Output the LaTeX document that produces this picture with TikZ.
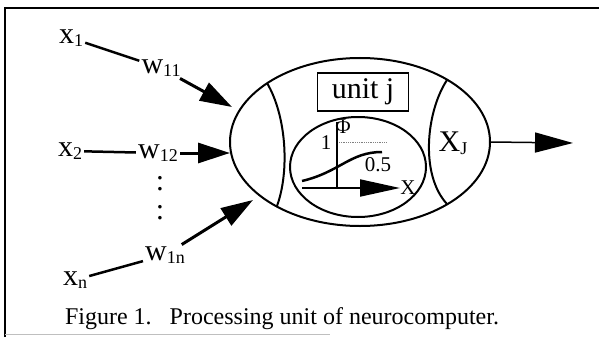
\documentclass[tikz,border=0pt]{standalone}
\usepackage{fontspec}
\setmainfont{Liberation Serif}
\usetikzlibrary{arrows.meta,shapes.geometric}
\newcommand{\lowsub}[1]{\raisebox{-0.2ex}{\fontsize{18}{18}\selectfont #1}}
\tikzset{
  lbl/.style={font=\fontsize{30}{32}\selectfont, inner sep=2pt},
  plotlbl/.style={font=\fontsize{21}{22}\selectfont, inner sep=0pt},
  wire/.style={line width=2.5pt},
  outline/.style={line width=2pt},
  inarrow/.style={line width=3pt, -{Triangle[length=32pt,width=20pt]}},
}
\begin{document}
\begin{tikzpicture}[x=1pt,y=-1pt]
	\useasboundingbox (0,0) rectangle (599,337);
	\draw[line width=2pt] (5,337) -- (5,8) -- (599,8);
	\draw[gray!50, line width=1pt] (5,334) -- (330,334);

	\node[lbl] (x1) at (71,38) {x\lowsub{1}};
	\node[lbl] (w11) at (161,68) {w\lowsub{11}};
	\node[lbl] (x2) at (70,151) {x\lowsub{2}};
	\node[lbl] (w12) at (158,153) {w\lowsub{12}};
	\node[lbl] (dots1) at (160,184) {:};
	\node[lbl] (dots2) at (160,213) {:};
	\node[lbl] (w1n) at (165,255) {w\lowsub{1n}};
	\node[lbl] (xn) at (75,280) {x\lowsub{n}};
	\draw[wire] (x1) -- (w11);
	\draw[wire] (x2) -- (w12);
	\draw[wire] (xn) -- (w1n);

	\node[draw, ellipse, outline, minimum width=260pt, minimum height=168pt, inner sep=0pt] (cell) at (360,142) {};
	\draw[outline] (267,83) .. controls (286,115) and (290,170) .. (277,206);
	\draw[outline] (447,80) .. controls (426,112) and (420,175) .. (447,204);
	\draw[outline] (358,167) ellipse [x radius=68, y radius=50];

	\coordinate (in1) at (232,107);
	\coordinate (in2) at (230,153);
	\coordinate (inn) at (253,200);
	\draw[inarrow] (w11) -- (in1);
	\draw[inarrow] (w12) -- (in2);
	\draw[inarrow] (w1n) -- (inn);

	\node[draw, line width=1.5pt, minimum width=91pt, minimum height=38pt, lbl] (unit) at (363,92) {unit j};

	\coordinate (orig) at (337,188);
	\draw[line width=2pt] (337,122) -- (orig);
	\draw[line width=2pt, -{Triangle[length=40pt,width=17pt]}] (302,188) -- (400,188);
	\draw[densely dotted, gray, line width=0.8pt] (339,142) -- (387,142);
	\draw[line width=2.5pt] (302,181) .. controls (340,172) and (350,152) .. (382,152);
	\node[plotlbl] (phi) at (343,127) {Φ};
	\node[plotlbl] (one) at (326,143) {1};
	\node[plotlbl] (half) at (378,165) {0.5};
	\node[plotlbl] (xin) at (408,188) {X};

	\node[lbl] (xj) at (453,143) {X\lowsub{J}};
	\coordinate (out) at (573,143);
	\draw[line width=1.5pt, -{Triangle[length=38pt,width=20pt]}] (cell.east) -- (out);

	\node[font=\fontsize{24}{26}\selectfont, anchor=base] (caption) at (282,324) {Figure 1.\hspace{0.75em}Processing unit of neurocomputer.};
\end{tikzpicture}
\end{document}
